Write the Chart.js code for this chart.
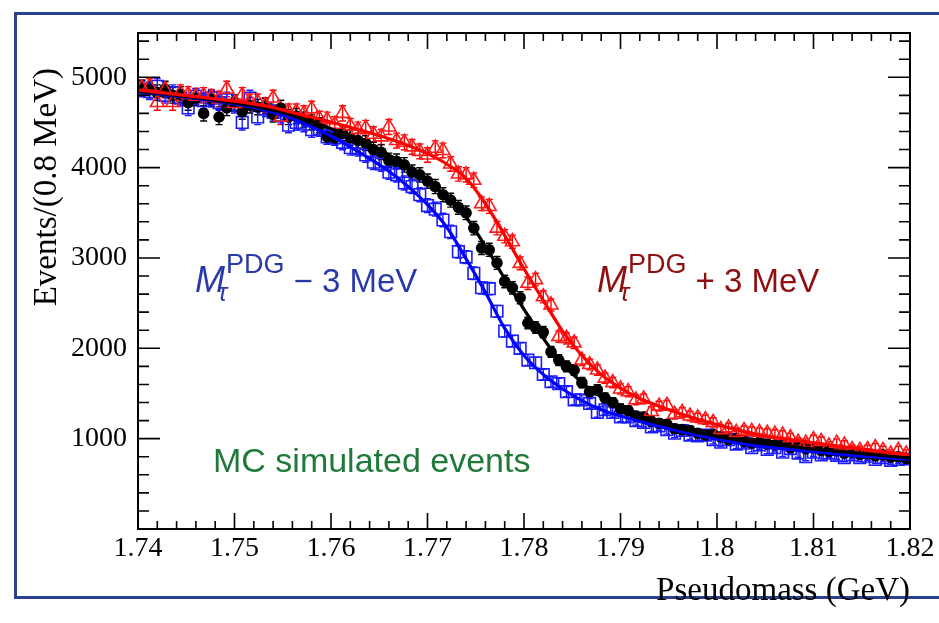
<!DOCTYPE html>
<html>
<head>
<meta charset="utf-8">
<script src="https://cdn.jsdelivr.net/npm/chart.js@4.4.1/dist/chart.umd.min.js"></script>
<style>
  html, body { margin: 0; padding: 0; background: #fff; }
  #wrap { width: 939px; height: 623px; }
</style>
</head>
<body>
<div id="wrap"><canvas id="c" width="939" height="623"></canvas></div>
<script>
// Histogram binning: 100 bins of 0.8 MeV from 1.74 to 1.82 GeV
const binLow = 1.74;
const binWidth = 0.0008;

const xTicks = [1.74, 1.75, 1.76, 1.77, 1.78, 1.79, 1.80, 1.81, 1.82];
const yTicks = [1000, 2000, 3000, 4000, 5000];

// MC events, M_tau - 3 MeV (blue open squares)
const minusCounts = [
  4870, 4840, 4900, 4800, 4830, 4770, 4660, 4790, 4740, 4770,
  4720, 4750, 4690, 4500, 4770, 4560, 4650, 4610, 4580, 4470,
  4500, 4480, 4420, 4430, 4340, 4330, 4280, 4220, 4210, 4140,
  4060, 4040, 3950, 3920, 3830, 3790, 3700, 3580, 3540, 3420,
  3290, 3070, 3010, 2830, 2670, 2660, 2410, 2190, 2080, 2000,
  1870, 1840, 1710, 1630, 1610, 1520, 1430, 1430, 1390, 1290,
  1320, 1290, 1240, 1240, 1200, 1180, 1130, 1140, 1100, 1060,
  1090, 1040, 1030, 1040, 990, 960, 990, 940, 950, 900,
  930, 880, 900, 850, 890, 840, 800, 850, 820, 840,
  815, 790, 820, 790, 805, 770, 790, 760, 770, 775
];

// MC events, nominal mass (black dots)
const nominalCounts = [
  4880, 4860, 4830, 4870, 4800, 4810, 4720, 4770, 4600, 4760,
  4560, 4660, 4720, 4620, 4690, 4670, 4680, 4590, 4660, 4560,
  4570, 4530, 4500, 4470, 4340, 4330, 4380, 4330, 4300, 4270,
  4200, 4170, 4080, 4070, 4030, 3950, 3920, 3850, 3790, 3700,
  3640, 3560, 3500, 3330, 3110, 3090, 2945, 2740, 2670, 2560,
  2280, 2230, 2180, 1960, 1870, 1800, 1760, 1620, 1520, 1540,
  1450, 1400, 1330, 1310, 1250, 1240, 1190, 1170, 1160, 1110,
  1100, 1090, 1060, 1040, 1050, 1020, 990, 1000, 970, 950,
  960, 940, 930, 935, 900, 915, 890, 900, 870, 860,
  865, 840, 850, 825, 830, 810, 820, 795, 800, 780
];

// MC events, M_tau + 3 MeV (red open triangles)
const plusCounts = [
  4880, 4900, 4720, 4860, 4720, 4830, 4810, 4790, 4800, 4780,
  4760, 4870, 4710, 4800, 4730, 4730, 4690, 4770, 4560, 4620,
  4620, 4600, 4650, 4540, 4530, 4480, 4600, 4460, 4420, 4440,
  4370, 4340, 4450, 4300, 4280, 4230, 4180, 4140, 4215, 4190,
  4040, 3930, 3920, 3860, 3600, 3570, 3330, 3240, 3180, 2940,
  2720, 2760, 2570, 2480, 2130, 2110, 2060, 1870, 1820, 1760,
  1670, 1620, 1550, 1520, 1430, 1440, 1300, 1360, 1370, 1270,
  1290, 1250, 1230, 1210, 1180, 1100, 1120, 1070, 1090, 1080,
  1070, 1060, 1050, 1040, 1010, 960, 950, 990, 970, 920,
  950, 930, 880, 870, 880, 900, 870, 830, 870, 830
];

// fitted curves, sampled every 2 MeV from 1.74 to 1.82
const fitStep = 0.002;
const minusFit = [4840, 4815, 4790, 4765, 4735, 4705, 4665, 4610, 4540, 4450,
  4350, 4230, 4100, 3960, 3790, 3590, 3340, 2990, 2620, 2220,
  1920, 1710, 1550, 1420, 1320, 1250, 1190, 1135, 1085, 1035,
  995, 955, 920, 895, 875, 855, 835, 815, 800, 785, 770];
const nominalFit = [4850, 4825, 4800, 4775, 4745, 4715, 4680, 4635, 4580, 4510,
  4430, 4350, 4250, 4140, 4010, 3860, 3670, 3450, 3130, 2770,
  2430, 2110, 1830, 1620, 1460, 1340, 1250, 1175, 1115, 1065,
  1025, 990, 960, 935, 910, 885, 865, 845, 825, 805, 785];
const plusFit = [4860, 4835, 4810, 4785, 4760, 4735, 4705, 4665, 4610, 4560,
  4505, 4445, 4385, 4320, 4245, 4155, 4040, 3880, 3600, 3250,
  2880, 2530, 2190, 1920, 1710, 1560, 1445, 1360, 1285, 1215,
  1155, 1100, 1050, 1015, 985, 955, 925, 898, 870, 845, 815];

const toBins = counts => counts.map((v, i) => ({ x: binLow + binWidth * (i + 0.5), y: v }));
const toFit = vals => vals.map((v, i) => ({ x: binLow + fitStep * i, y: v }));

const SERIF = '"Liberation Serif", "Times New Roman", serif';
const SANS = '"Liberation Sans", Arial, sans-serif';

// ROOT-like frame, inward ticks, error bars and text labels
const rootStyle = {
  id: 'rootStyle',
  beforeDraw(chart) {
    const ctx = chart.ctx;
    ctx.save();
    ctx.fillStyle = '#fff';
    ctx.fillRect(0, 0, chart.width, chart.height);
    ctx.strokeStyle = '#2b3f8c';
    ctx.lineWidth = 3;
    ctx.beginPath();
    ctx.moveTo(940, 13.5);
    ctx.lineTo(15.5, 13.5);
    ctx.lineTo(15.5, 597.5);
    ctx.lineTo(940, 597.5);
    ctx.stroke();
    ctx.restore();
  },
  beforeDatasetsDraw(chart) {
    const ctx = chart.ctx;
    const ys = chart.scales.y;
    ctx.save();
    chart.data.datasets.forEach((ds, di) => {
      if (!ds.errColor) return;
      const meta = chart.getDatasetMeta(di);
      ctx.strokeStyle = ds.errColor;
      ctx.lineWidth = 1.4;
      meta.data.forEach((pt, i) => {
        const v = ds.data[i].y;
        const e = Math.sqrt(v);
        const yTop = ys.getPixelForValue(v + e) - 1.5;
        const yBot = ys.getPixelForValue(v - e) + 1.5;
        ctx.beginPath();
        ctx.moveTo(pt.x, yTop); ctx.lineTo(pt.x, yBot);
        ctx.moveTo(pt.x - 3.5, yTop); ctx.lineTo(pt.x + 3.5, yTop);
        ctx.moveTo(pt.x - 3.5, yBot); ctx.lineTo(pt.x + 3.5, yBot);
        ctx.stroke();
      });
    });
    ctx.restore();
  },
  afterDraw(chart) {
    const ctx = chart.ctx;
    const { left, right, top, bottom } = chart.chartArea;
    const xs = chart.scales.x, ys = chart.scales.y;
    ctx.save();
    ctx.strokeStyle = '#000';
    ctx.lineWidth = 2;
    ctx.strokeRect(left, top, right - left, bottom - top);

    ctx.lineWidth = 1.6;
    ctx.beginPath();
    for (let i = 0; i <= 40; i++) {
      const px = xs.getPixelForValue(1.74 + i * 0.002);
      const len = i % 5 === 0 ? 16 : 8;
      ctx.moveTo(px, bottom); ctx.lineTo(px, bottom - len);
      ctx.moveTo(px, top); ctx.lineTo(px, top + len);
    }
    for (let v = 0; v <= 5400; v += 200) {
      const py = ys.getPixelForValue(v);
      const len = v % 1000 === 0 ? 22 : 11;
      ctx.moveTo(left, py); ctx.lineTo(left + len, py);
      ctx.moveTo(right, py); ctx.lineTo(right - len, py);
    }
    ctx.stroke();

    // axis titles
    ctx.fillStyle = '#000';
    ctx.font = '33px ' + SERIF;
    ctx.textAlign = 'right';
    ctx.textBaseline = 'middle';
    ctx.fillText('Pseudomass (GeV)', right, 591);
    ctx.save();
    ctx.translate(47, 68);
    ctx.rotate(-Math.PI / 2);
    ctx.fillText('Events/(0.8 MeV)', 0, 0);
    ctx.restore();

    // annotations
    ctx.textAlign = 'left';
    ctx.textBaseline = 'alphabetic';
    drawMass(ctx, 195, 292, '\u2212', '#2a3aa6');
    drawMass(ctx, 597, 292, '+', '#8e0f0f');
    ctx.fillStyle = '#1f7a3a';
    ctx.font = '34px ' + SANS;
    ctx.fillText('MC simulated events', 213, 472);
    ctx.restore();
  }
};

function drawMass(ctx, x, y, sign, color) {
  ctx.fillStyle = color;
  ctx.font = 'italic 36px ' + SANS;
  ctx.fillText('M', x, y);
  const wM = ctx.measureText('M').width;
  ctx.font = 'italic 25px ' + SANS;
  ctx.fillText('\u03c4', x + wM - 7, y + 9);
  ctx.font = '27px ' + SANS;
  ctx.fillText('PDG', x + wM + 1, y - 19);
  const wP = ctx.measureText('PDG').width;
  ctx.font = '33px ' + SANS;
  ctx.fillText(sign + ' 3 MeV', x + wM + wP + 10, y);
}

new Chart(document.getElementById('c'), {
  type: 'line',
  data: {
    datasets: [
      {
        label: 'fit +3', data: toFit(plusFit), borderColor: '#ff0000', borderWidth: 3.2,
        pointRadius: 0, cubicInterpolationMode: 'monotone', order: 1
      },
      {
        label: 'fit nominal', data: toFit(nominalFit), borderColor: '#000000', borderWidth: 3.2,
        pointRadius: 0, cubicInterpolationMode: 'monotone', order: 2
      },
      {
        label: 'fit -3', data: toFit(minusFit), borderColor: '#0000ff', borderWidth: 3.2,
        pointRadius: 0, cubicInterpolationMode: 'monotone', order: 3
      },
      {
        label: '+3 MeV', data: toBins(plusCounts), showLine: false, errColor: '#ff0000',
        pointStyle: 'triangle', pointRadius: 8, borderWidth: 1.6,
        borderColor: '#ff1a1a', backgroundColor: 'rgba(0,0,0,0)', order: 4
      },
      {
        label: 'nominal', data: toBins(nominalCounts), showLine: false, errColor: '#000000',
        pointStyle: 'circle', pointRadius: 5.8, borderWidth: 0,
        borderColor: '#000', backgroundColor: '#000', order: 5
      },
      {
        label: '-3 MeV', data: toBins(minusCounts), showLine: false, errColor: '#1a1aff',
        pointStyle: 'rect', pointRadius: 8.2, borderWidth: 1.6,
        borderColor: '#1a1aff', backgroundColor: 'rgba(0,0,0,0)', order: 6
      }
    ]
  },
  options: {
    responsive: false,
    animation: false,
    devicePixelRatio: 1,
    layout: { padding: { left: 0, top: 33, right: 29, bottom: 0 } },
    plugins: { legend: { display: false }, tooltip: { enabled: false } },
    elements: { point: { hoverRadius: 0 } },
    scales: {
      x: {
        type: 'linear', min: 1.74, max: 1.82,
        grid: { display: false, drawTicks: false },
        border: { display: false },
        afterBuildTicks: s => { s.ticks = xTicks.map(v => ({ value: v })); },
        afterFit: s => { s.height = 94; },
        ticks: {
          autoSkip: false, maxRotation: 0, padding: 3, color: '#000',
          font: { family: SERIF, size: 28 },
          callback: v => String(+v.toFixed(2))
        }
      },
      y: {
        type: 'linear', min: 0, max: 5490,
        grid: { display: false, drawTicks: false },
        border: { display: false },
        afterBuildTicks: s => { s.ticks = yTicks.map(v => ({ value: v })); },
        afterFit: s => { s.width = 138; },
        ticks: {
          padding: 11, color: '#000',
          font: { family: SERIF, size: 28 },
          callback: v => String(v)
        }
      }
    }
  },
  plugins: [rootStyle]
});
</script>
</body>
</html>
